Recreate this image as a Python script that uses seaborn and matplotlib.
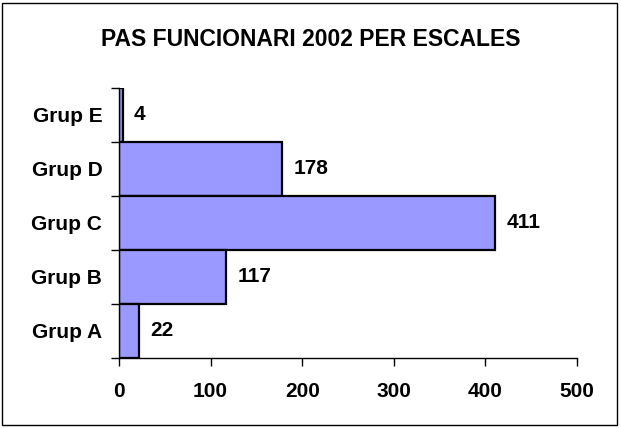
import matplotlib
matplotlib.use("Agg")
import matplotlib.pyplot as plt
import seaborn as sns
import pandas as pd
from matplotlib.patches import Rectangle

sns.set_style("white")
plt.rcParams['font.family'] = ['Liberation Sans', 'DejaVu Sans']
plt.rcParams['text.color'] = 'black'
plt.rcParams['xtick.color'] = 'black'
plt.rcParams['ytick.color'] = 'black'

# chart data
grups = ["Grup E", "Grup D", "Grup C", "Grup B", "Grup A"]
persones = [4, 178, 411, 117, 22]
xticks = [0, 100, 200, 300, 400, 500]

df = pd.DataFrame({"grup": grups, "n": persones})

fig = plt.figure(figsize=(6.21, 4.28), dpi=100)
ax = fig.add_axes([119 / 621, 70 / 428, 458 / 621, 270 / 428])

sns.barplot(data=df, x="n", y="grup", order=grups, orient="h",
            color="#9999FF", saturation=1, width=1.0,
            edgecolor="black", linewidth=1.6, ax=ax)

ax.set_xlim(0, 500)
ax.set_ylim(len(grups) - 0.5, -0.5)
ax.set_xticks(xticks)
ax.set_xticklabels([str(v) for v in xticks], fontsize=15, fontweight="bold", color="black")
ax.set_yticks(range(len(grups)))
ax.set_yticklabels(grups, fontsize=15, fontweight="bold", color="black")
ax.set_yticks([i - 0.5 for i in range(len(grups) + 1)], minor=True)
ax.tick_params(axis="y", which="major", left=True, length=0, pad=12)
ax.tick_params(axis="y", which="minor", left=True, length=6, width=1, color="black", direction="out")
ax.tick_params(axis="x", bottom=True, length=6, width=1, color="black", direction="out", pad=11)
ax.set_xlabel("")
ax.set_ylabel("")

for side in ["top", "right"]:
    ax.spines[side].set_visible(False)
for side in ["left", "bottom"]:
    ax.spines[side].set_color("black")
    ax.spines[side].set_linewidth(1)

ax.bar_label(ax.containers[0], padding=8, fontsize=15, fontweight="bold", color="black")

fig.text(0.5, 1 - 40 / 428, "PAS FUNCIONARI 2002 PER ESCALES", ha="center", va="center",
         fontsize=16.5, fontweight="bold", color="black")

fig.patches.append(Rectangle((2 / 621, 3 / 428), 615 / 621, 422 / 428, transform=fig.transFigure,
                             fill=False, edgecolor="black", linewidth=1))

fig.savefig("out.png", dpi=100)
